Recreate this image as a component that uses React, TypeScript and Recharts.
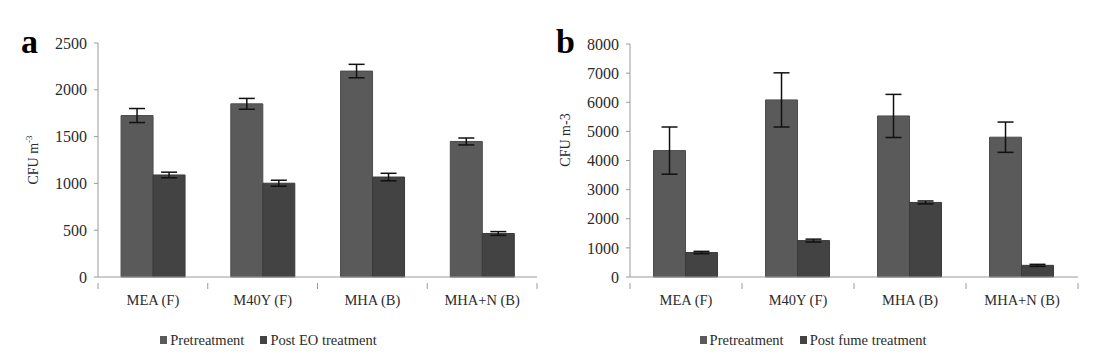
import { BarChart, Bar, XAxis, YAxis, ErrorBar, Legend } from 'recharts';

const categories = ['MEA (F)', 'M40Y (F)', 'MHA (B)', 'MHA+N (B)'];

// panel a: EO treatment
const aPre = [1725, 1850, 2200, 1448];
const aPreErr = [75, 58, 72, 37];
const aPost = [1090, 1002, 1068, 465];
const aPostErr = [30, 32, 40, 20];
const aTicks = [0, 500, 1000, 1500, 2000, 2500];

// panel b: fume treatment
const bPre = [4340, 6080, 5530, 4800];
const bPreErr = [810, 930, 740, 520];
const bPost = [840, 1250, 2560, 400];
const bPostErr = [40, 50, 50, 35];
const bTicks = [0, 1000, 2000, 3000, 4000, 5000, 6000, 7000, 8000];

const FONT = '"Liberation Serif", "DejaVu Serif", serif';
const PRE_COLOR = '#5a5a5a';
const POST_COLOR = '#434343';
const AXIS_COLOR = '#9a9a9a';
const TEXT_COLOR = '#2b2b2b';

const buildData = (pre: number[], preErr: number[], post: number[], postErr: number[]) =>
  categories.map((name, i) => ({ name, pre: pre[i], preErr: preErr[i], post: post[i], postErr: postErr[i] }));

const dataA = buildData(aPre, aPreErr, aPost, aPostErr);
const dataB = buildData(bPre, bPreErr, bPost, bPostErr);

const makeTick = (band: number, count: number) => (props: any) => {
  const { x, y, payload, index } = props;
  // y is the axis line position here since tickLine is off and tickMargin is 0
  return (
    <g>
      <line x1={x - band / 2} x2={x - band / 2} y1={y} y2={y + 6} stroke={AXIS_COLOR} />
      {index === count - 1 && (
        <line x1={x + band / 2} x2={x + band / 2} y1={y} y2={y + 6} stroke={AXIS_COLOR} />
      )}
      <text x={x} y={y + 22} textAnchor="middle" fontSize={14.5} fontFamily={FONT} fill={TEXT_COLOR}>
        {payload.value}
      </text>
    </g>
  );
};

const LegendBox = ({ postName }: { postName: string }) => (
  <div style={{ display: 'flex', justifyContent: 'center', gap: 16, fontFamily: FONT, fontSize: 14.5, color: TEXT_COLOR, lineHeight: '20px' }}>
    {[['Pretreatment', PRE_COLOR], [postName, POST_COLOR]].map(([label, color]) => (
      <span key={label} style={{ display: 'inline-flex', alignItems: 'center' }}>
        <span style={{ display: 'inline-block', width: 7, height: 8, background: color, marginRight: 3 }} />
        {label}
      </span>
    ))}
  </div>
);

type PanelProps = {
  data: any[];
  width: number;
  top: number;
  right: number;
  axisWidth: number;
  domainMax: number;
  ticks: number[];
  postName: string;
};

const Panel = ({ data, width, top, right, axisWidth, domainMax, ticks, postName }: PanelProps) => {
  const height = 355;
  const band = (width - right - axisWidth) / categories.length;
  return (
    <BarChart
      width={width}
      height={height}
      data={data}
      margin={{ top, right, left: 0, bottom: 5 }}
      barGap={0}
      barCategoryGap="21%"
    >
      <XAxis
        dataKey="name"
        height={53}
        tickLine={false}
        tickMargin={0}
        axisLine={{ stroke: AXIS_COLOR }}
        interval={0}
        tick={makeTick(band, categories.length)}
      />
      <YAxis
        width={axisWidth}
        domain={[0, domainMax]}
        ticks={ticks}
        tickSize={4}
        tickMargin={7}
        axisLine={{ stroke: AXIS_COLOR }}
        tickLine={{ stroke: AXIS_COLOR }}
        tick={{ fontSize: 16, fontFamily: FONT, fill: TEXT_COLOR }}
      />
      <Legend verticalAlign="bottom" content={() => <LegendBox postName={postName} />} />
      <Bar dataKey="pre" name="Pretreatment" fill={PRE_COLOR} stroke="#4c4c4c" isAnimationActive={false}>
        <ErrorBar dataKey="preErr" width={8} strokeWidth={1.5} stroke="#111" />
      </Bar>
      <Bar dataKey="post" name={postName} fill={POST_COLOR} stroke="#3a3a3a" isAnimationActive={false}>
        <ErrorBar dataKey="postErr" width={8} strokeWidth={1.5} stroke="#111" />
      </Bar>
    </BarChart>
  );
};

export default function App() {
  return (
    <div style={{ position: 'absolute', left: 0, top: 0, width: 1097, height: 355, background: '#fff' }}>
      <div style={{ position: 'absolute', left: 0, top: 0 }}>
        <Panel data={dataA} width={548} top={43} right={11} axisWidth={98} domainMax={2500} ticks={aTicks} postName="Post EO treatment" />
      </div>
      <div style={{ position: 'absolute', left: 548, top: 0 }}>
        <Panel data={dataB} width={549} top={44} right={19} axisWidth={82} domainMax={8000} ticks={bTicks} postName="Post fume treatment" />
      </div>
      <div style={{ position: 'absolute', left: 21, top: 22, fontFamily: FONT, fontWeight: 'bold', fontSize: 34, lineHeight: '40px' }}>a</div>
      <div style={{ position: 'absolute', left: 556, top: 22, fontFamily: FONT, fontWeight: 'bold', fontSize: 34, lineHeight: '40px' }}>b</div>
      <div
        style={{
          position: 'absolute', left: 33, top: 160, transform: 'translate(-50%, -50%) rotate(-90deg)',
          fontFamily: FONT, fontSize: 14, color: TEXT_COLOR, whiteSpace: 'nowrap',
        }}
      >
        CFU m<sup style={{ fontSize: 9 }}>-3</sup>
      </div>
      <div
        style={{
          position: 'absolute', left: 566, top: 140, transform: 'translate(-50%, -50%) rotate(-90deg)',
          fontFamily: FONT, fontSize: 14, color: TEXT_COLOR, whiteSpace: 'nowrap',
        }}
      >
        CFU m-3
      </div>
    </div>
  );
}
